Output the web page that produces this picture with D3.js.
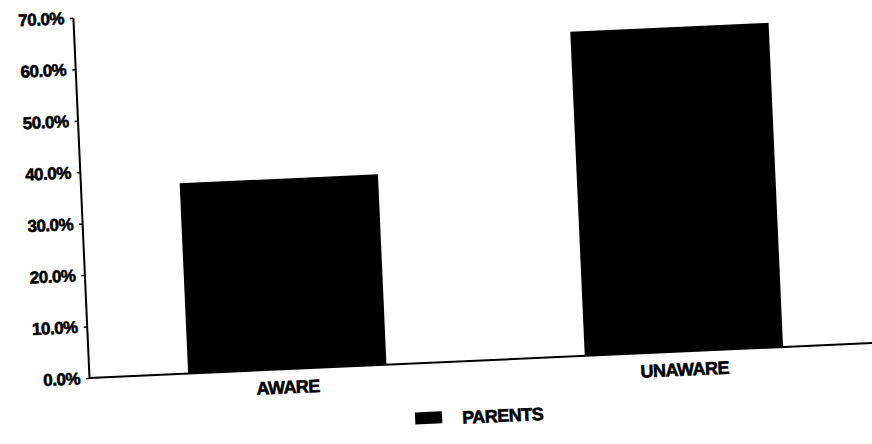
<!DOCTYPE html>
<html>
<head>
<meta charset="utf-8">
<script src="https://cdn.jsdelivr.net/npm/d3@7"></script>
<style>
  html, body { margin: 0; padding: 0; background: #fff; }
  svg { display: block; }
  text { font-family: "Liberation Sans", Arial, sans-serif; font-weight: bold; fill: #000; stroke: #000; stroke-width: 0.6px; }
</style>
</head>
<body>
<svg id="chart" width="872" height="444"></svg>
<script>
const categories = ["AWARE", "UNAWARE"];
const parentsValues = [37.0, 63.0];
const yTickValues = [0, 10, 20, 30, 40, 50, 60, 70];
const seriesName = "PARENTS";

const svg = d3.select("#chart");
svg.append("rect").attr("width", 872).attr("height", 444).attr("fill", "#fff");

// scanned page is slightly tilted
const g = svg.append("g").attr("transform", "translate(89,378) rotate(-2.56)");

const y = d3.scaleLinear().domain([0, 70]).range([0, -360.5]);
const x = d3.scaleBand().domain(categories).range([0, 794])
  .paddingInner(0.5).paddingOuter(0.25);

// bars
g.selectAll("rect.bar")
  .data(categories.map((c, i) => ({ c, v: parentsValues[i] })))
  .join("rect")
  .attr("class", "bar")
  .attr("x", d => x(d.c))
  .attr("y", d => y(d.v))
  .attr("width", x.bandwidth())
  .attr("height", d => y(0) - y(d.v))
  .attr("fill", "#000");

// y axis
const yAxis = g.append("g")
  .call(d3.axisLeft(y).tickValues(yTickValues)
    .tickFormat(d => d.toFixed(1) + "%")
    .tickSizeInner(3).tickSizeOuter(0).tickPadding(6));
yAxis.select(".domain").attr("stroke", "#000").attr("stroke-width", 2);
yAxis.selectAll(".tick line").attr("stroke", "#000").attr("stroke-width", 1.5);
yAxis.selectAll(".tick text")
  .style("font-family", "'Liberation Sans', Arial, sans-serif")
  .style("font-weight", "bold")
  .style("font-size", "17px")
  .style("letter-spacing", "-0.5px")
  .attr("fill", "#000");

// x baseline
g.append("line")
  .attr("x1", 0).attr("x2", 820)
  .attr("y1", y(0)).attr("y2", y(0))
  .attr("stroke", "#000").attr("stroke-width", 2);

// category labels
g.selectAll("text.cat")
  .data(categories)
  .join("text")
  .attr("class", "cat")
  .attr("x", d => x(d) + x.bandwidth() / 2)
  .attr("y", y(0) + 18)
  .attr("dy", "0.35em")
  .attr("text-anchor", "middle")
  .style("font-size", "18px")
  .style("letter-spacing", "-0.5px")
  .text(d => d);

// legend
const legend = g.append("g").attr("transform", "translate(324,49)");
legend.append("rect").attr("x", 0).attr("y", 0).attr("width", 27).attr("height", 12).attr("fill", "#000");
legend.append("text").attr("x", 47).attr("y", 7).attr("dy", "0.35em")
  .style("font-size", "18px").style("letter-spacing", "-0.5px")
  .text(seriesName);
</script>
</body>
</html>
